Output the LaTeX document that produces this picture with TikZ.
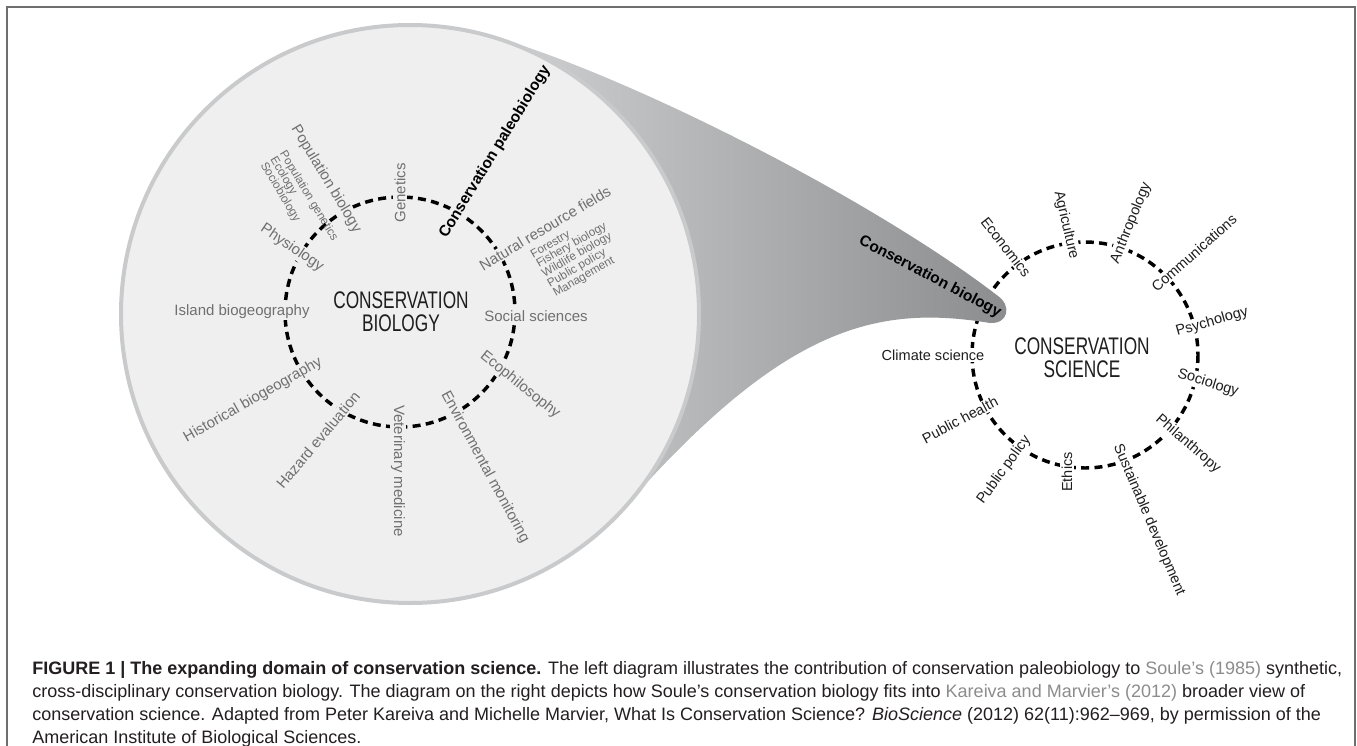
\documentclass[tikz,border=0pt]{standalone}
\usepackage{fontspec}
\setmainfont{Liberation Sans}
\definecolor{bigfill}{HTML}{EFEFEF}
\definecolor{bigedge}{HTML}{C9CACB}
\definecolor{lbl}{HTML}{707070}
\definecolor{ink}{HTML}{1E1E1E}
\definecolor{captxt}{HTML}{231F20}
\definecolor{lnk}{HTML}{8C8C8C}
\definecolor{framecol}{HTML}{6E6E6E}
\definecolor{conel}{HTML}{DCDDDE}
\definecolor{coner}{HTML}{8A8C8E}
\begin{document}
\begin{tikzpicture}[x=0.75pt,y=-0.75pt,
  ring/.style={line width=2.6pt, dash pattern=on 6pt off 4pt},
  llab/.style={font=\fontsize{11.25}{13}\selectfont, text=lbl, fill=bigfill, inner sep=1pt},
  lsub/.style={font=\fontsize{8.8}{8.4}\selectfont, text=lbl, align=left, inner sep=0pt},
  boldlab/.style={font=\bfseries\fontsize{11.6}{13}\selectfont, text=black, inner sep=1pt},
  rlab/.style={font=\fontsize{10.9}{13}\selectfont, text=ink, fill=white, inner sep=1pt},
  bigtitle/.style={font=\fontsize{18}{17.5}\selectfont, text=ink, align=center, xscale=0.72},
  capl/.style={font=\fontsize{13.5}{16}\selectfont, text=captxt, anchor=base west, inner sep=0pt},
]
\useasboundingbox (0,0) rectangle (1357,746);
\fill[white] (0,0) rectangle (1357,746);
% frame
\draw[framecol, line width=1.2pt] (7,746) -- (7,7) -- (1355,7) -- (1355,746);

% right dashed ring (drawn under the cone)
\draw[ring] (1085,355) circle[radius=113];

% cone
\shade[left color=conel, right color=coner]
  (480,33) .. controls (600,63) and (860,190) .. (998,296)
  .. controls (1012,306) and (1008,324) .. (990,323)
  .. controls (880,305) and (790,325) .. (640,490)
  -- (410,314) -- cycle;

% big circle
\draw[bigedge, fill=bigfill, line width=3pt] (410,314) circle[radius=289];

% left dashed ring
\draw[ring] (400,312) circle[radius=115];

% left labels
\node[llab, rotate=90] (gen) at (400,193) {Genetics};
\node[boldlab, fill=bigfill, rotate=58.5] (cpb) at (495,152) {Conservation paleobiology};
\node[llab, rotate=-59] (popb) at (326,179) {Population biology};
\node[lsub, rotate=-59, anchor=north west] (pops) at (287,149) {Population genetics\\Ecology\\Sociobiology};
\node[llab, rotate=-34] (phys) at (292,248) {Physiology};
\node[llab] (isl) at (242,312) {Island biogeography};
\node[llab, rotate=29.7] (hist) at (253,400) {Historical biogeography};
\node[llab, rotate=50] (haz) at (318,440) {Hazard evaluation};
\node[llab, rotate=-90] (vet) at (398,471) {Veterinary medicine};
\node[llab, rotate=-61.5] (env) at (485,467) {Environmental monitoring};
\node[llab, rotate=-38.7] (ecop) at (520,385) {Ecophilosophy};
\node[llab] (socs) at (536,316) {Social sciences};
\node[llab, rotate=30.8] (nat) at (545,228) {Natural resource fields};
\node[lsub, rotate=30, anchor=north west] (nats) at (529,251) {Forestry\\Fishery biology\\Wildlife biology\\Public policy\\Management};

\node[bigtitle] (cbio) at (401,312) {CONSERVATION\\BIOLOGY};

% right labels
\node[boldlab, rotate=-27.6] (cbl) at (930,277) {Conservation biology};
\node[rlab, rotate=-52] (econ) at (1006,247) {Economics};
\node[rlab, rotate=-77] (agri) at (1066,225) {Agriculture};
\node[rlab, rotate=68] (anth) at (1131,223) {Anthropology};
\node[rlab, rotate=41.7] (comm) at (1194,253) {Communications};
\node[rlab, rotate=16] (psy) at (1212,322) {Psychology};
\node[rlab, rotate=-17.6] (socio) at (1208,383) {Sociology};
\node[rlab, rotate=-41] (phil) at (1188,444) {Philanthropy};
\node[rlab, rotate=-67] (sust) at (1149,520) {Sustainable development};
\node[rlab, rotate=90] (eth) at (1067,472) {Ethics};
\node[rlab, rotate=54] (pubpol) at (1004,470) {Public policy};
\node[rlab, rotate=27.8] (pubh) at (960,420) {Public health};
\node[rlab] (clim) at (933,355) {Climate science};

\node[bigtitle] (csci) at (1082,358) {CONSERVATION\\SCIENCE};

% caption
\node[capl] (c1) at (32,674) {\textbf{FIGURE 1 | The expanding domain of conservation science.} The left diagram illustrates the contribution of conservation paleobiology to {\color{lnk}Soule’s (1985)} synthetic,};
\node[capl] (c2) at (32,697) {cross-disciplinary conservation biology. The diagram on the right depicts how Soule’s conservation biology fits into {\color{lnk}Kareiva and Marvier’s (2012)} broader view of};
\node[capl] (c3) at (32,720) {conservation science. Adapted from Peter Kareiva and Michelle Marvier, What Is Conservation Science? \textit{BioScience} (2012) 62(11):962–969, by permission of the};
\node[capl] (c4) at (32,743) {American Institute of Biological Sciences.};
\end{tikzpicture}
\end{document}
